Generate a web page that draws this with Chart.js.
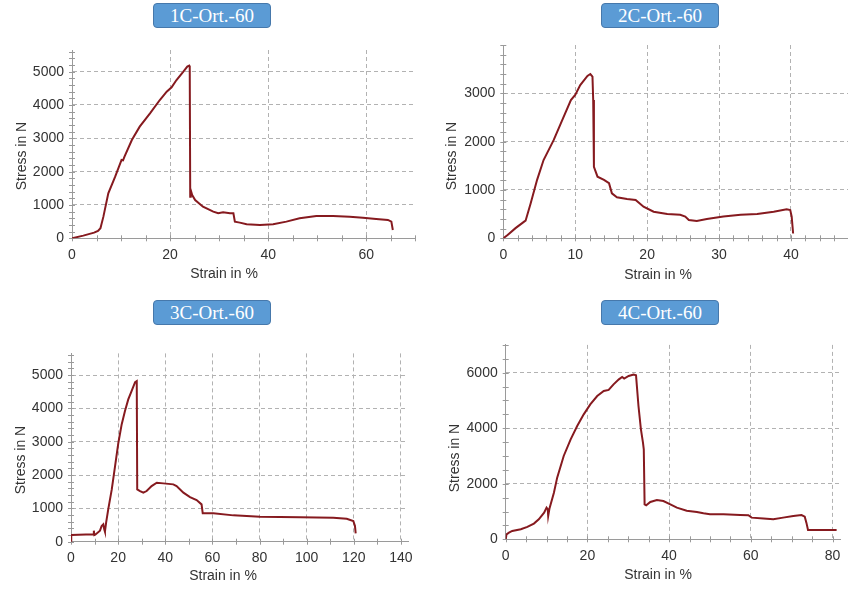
<!DOCTYPE html>
<html>
<head>
<meta charset="utf-8">
<script src="https://cdn.jsdelivr.net/npm/chart.js@4.4.1/dist/chart.umd.min.js"></script>
<style>
  html, body { margin: 0; padding: 0; background: #fff; }
  #wrap { position: relative; width: 848px; height: 592px; background: #fff; overflow: hidden; }
  .panel { position: absolute; width: 440px; height: 296px; }
  .panel canvas { display: block; }
  .badge {
    position: absolute; width: 116px; height: 23px; box-sizing: content-box;
    background: #5b9bd5; border: 1px solid #4678ab; border-radius: 4px;
    color: #fff; font: 19px "Liberation Serif", "Times New Roman", serif;
    text-align: center; line-height: 23px; white-space: nowrap;
  }
  .xt, .yt {
    position: absolute; font: 14px "Liberation Sans", Arial, sans-serif; color: #333;
    white-space: nowrap; transform: translate(-50%, -50%);
  }
  .yt { transform: translate(-50%, -50%) rotate(-90deg); }
</style>
</head>
<body>
<div id="wrap">
  <div class="panel" style="left:0;top:0"><canvas id="c1" width="440" height="296"></canvas></div>
  <div class="panel" style="left:424px;top:0"><canvas id="c2" width="440" height="296"></canvas></div>
  <div class="panel" style="left:0;top:296px"><canvas id="c3" width="440" height="296"></canvas></div>
  <div class="panel" style="left:424px;top:296px"><canvas id="c4" width="440" height="296"></canvas></div>

  <div class="badge" style="left:153px;top:3px">1C-Ort.-60</div>
  <div class="badge" style="left:601px;top:3px">2C-Ort.-60</div>
  <div class="badge" style="left:153px;top:300px">3C-Ort.-60</div>
  <div class="badge" style="left:601px;top:300px">4C-Ort.-60</div>

  <div class="xt" style="left:224px;top:273px">Strain in %</div>
  <div class="xt" style="left:658px;top:274px">Strain in %</div>
  <div class="xt" style="left:223px;top:575px">Strain in %</div>
  <div class="xt" style="left:658px;top:574px">Strain in %</div>

  <div class="yt" style="left:21px;top:156px">Stress in N</div>
  <div class="yt" style="left:451px;top:156px">Stress in N</div>
  <div class="yt" style="left:20px;top:460px">Stress in N</div>
  <div class="yt" style="left:454px;top:458px">Stress in N</div>
</div>

<script>
// ---- Specimen 1C-Ort.-60 ----
const strain1 = [0, 2.3, 4.5, 5.3, 5.8, 6.4, 7.4, 8.8, 10.1, 10.4, 10.7, 12.2, 13.8, 15.9, 17.9, 19.3, 20.3, 21.3, 22.7, 23.5, 23.9, 24.0, 24.1, 24.2, 24.5, 25.1, 26.7, 28.8, 29.8, 30.8, 32.2, 32.9, 33.2, 34.2, 35.6, 38.3, 41.0, 43.7, 46.4, 49.8, 53.2, 56.6, 59.3, 62.0, 64.4, 65.1, 65.4];
const stress1 = [0, 80, 170, 220, 300, 650, 1350, 1850, 2350, 2340, 2450, 2950, 3350, 3750, 4150, 4400, 4530, 4750, 5000, 5150, 5180, 5150, 1250, 1450, 1300, 1150, 950, 800, 750, 780, 750, 750, 500, 470, 420, 400, 420, 500, 600, 670, 670, 650, 620, 580, 550, 500, 250];
const xMajor1 = [0, 20, 40, 60];
const yMajor1 = [0, 1000, 2000, 3000, 4000, 5000];

// ---- Specimen 2C-Ort.-60 ----
const strain2 = [0, 0.6, 1.7, 2.9, 3.1, 3.8, 4.7, 5.6, 7.0, 8.0, 9.4, 10.0, 10.7, 11.7, 12.1, 12.4, 12.5, 12.6, 13.1, 14.0, 14.7, 15.1, 15.8, 17.2, 18.4, 19.5, 20.9, 22.8, 24.6, 25.3, 25.8, 26.9, 28.3, 30.6, 33.0, 35.3, 37.6, 39.4, 39.9, 40.1, 40.3];
const stress2 = [0, 70, 210, 345, 365, 720, 1210, 1620, 2030, 2380, 2860, 2965, 3170, 3360, 3400, 3345, 2860, 1480, 1275, 1210, 1140, 930, 850, 815, 795, 655, 550, 505, 485, 450, 380, 360, 400, 450, 485, 505, 550, 600, 585, 450, 100];
const xMajor2 = [0, 10, 20, 30, 40];
const yMajor2 = [0, 1000, 2000, 3000];

// ---- Specimen 3C-Ort.-60 ----
const strain3 = [0, 0.1, 9.5, 9.7, 9.9, 10.3, 12.3, 13.0, 13.7, 14.1, 14.4, 14.9, 15.8, 17.3, 18.7, 20.1, 21.5, 22.9, 24.3, 25.7, 27.2, 27.9, 28.1, 29.3, 30.7, 32.1, 34.2, 36.4, 39.2, 43.4, 44.8, 47.7, 50.5, 53.3, 55.4, 55.9, 60.4, 68.9, 80.2, 97.2, 111.3, 117.0, 119.8, 120.5, 120.8];
const stress3 = [0, 200, 220, 330, 200, 210, 330, 470, 520, 370, 300, 570, 970, 1570, 2270, 2970, 3520, 3920, 4270, 4520, 4790, 4820, 1570, 1520, 1470, 1520, 1670, 1770, 1750, 1720, 1670, 1470, 1340, 1250, 1120, 850, 850, 790, 750, 730, 720, 690, 620, 470, 250];
const xMajor3 = [0, 20, 40, 60, 80, 100, 120, 140];
const yMajor3 = [0, 1000, 2000, 3000, 4000, 5000];

// ---- Specimen 4C-Ort.-60 ----
const strain4 = [0, 0.2, 0.8, 1.6, 3.7, 5.3, 6.9, 8.1, 9.4, 10.0, 10.3, 10.4, 10.7, 11.8, 12.6, 14.2, 15.9, 17.5, 19.1, 20.7, 22.4, 24.0, 25.2, 26.4, 27.7, 28.5, 29.0, 30.1, 31.3, 31.9, 32.5, 33.1, 33.6, 33.8, 34.0, 34.4, 35.4, 37.0, 38.6, 40.3, 41.9, 44.3, 46.8, 48.4, 50.0, 53.3, 57.4, 59.4, 60.2, 63.1, 65.5, 67.9, 70.4, 72.4, 73.2, 73.6, 74.0, 81.0];
const stress4 = [0, 180, 240, 300, 360, 445, 565, 720, 960, 1140, 1080, 840, 1100, 1680, 2220, 3000, 3600, 4080, 4500, 4860, 5160, 5340, 5380, 5580, 5760, 5845, 5785, 5880, 5930, 5905, 4800, 3960, 3480, 3240, 1260, 1225, 1345, 1415, 1380, 1260, 1140, 1030, 985, 935, 900, 900, 875, 865, 780, 745, 720, 780, 840, 875, 815, 600, 335, 335];
const xMajor4 = [0, 20, 40, 60, 80];
const yMajor4 = [0, 2000, 4000, 6000];

Chart.defaults.font.family = '"Liberation Sans", Arial, sans-serif';
Chart.defaults.font.size = 14;
Chart.defaults.color = '#333';

const LINE_COLOR = '#861a1f';
const GRID_COLOR = '#b2b2b2';
const AXIS_COLOR = '#9a9a9a';

// Short tick marks that cross both axis lines at every minor step
const crossTicks = {
  id: 'crossTicks',
  beforeDatasetsDraw(chart, args, opts) {
    const { ctx, chartArea } = chart;
    const xs = chart.scales.x, ys = chart.scales.y;
    const onStep = (v, step) => Math.abs(v / step - Math.round(v / step)) < 1e-6;
    ctx.save();
    ctx.strokeStyle = AXIS_COLOR;
    ctx.lineWidth = 1;
    ctx.beginPath();
    xs.ticks.forEach(t => {
      if (!onStep(t.value, opts.xStep)) return;
      const px = Math.round(xs.getPixelForValue(t.value)) + 0.5;
      ctx.moveTo(px, chartArea.bottom - 3);
      ctx.lineTo(px, chartArea.bottom + 3);
    });
    ys.ticks.forEach(t => {
      if (!onStep(t.value, opts.yStep)) return;
      const py = Math.round(ys.getPixelForValue(t.value)) + 0.5;
      ctx.moveTo(chartArea.left - 3, py);
      ctx.lineTo(chartArea.left + 3, py);
    });
    ctx.stroke();
    ctx.restore();
  }
};

function makeChart(id, strain, stress, xMajor, yMajor, s) {
  const points = strain.map((x, i) => ({ x: x, y: stress[i] }));
  const isMajor = (list, v) => list.some(m => Math.abs(m - v) < 1e-6);
  return new Chart(document.getElementById(id), {
    type: 'line',
    data: {
      datasets: [{
        data: points,
        borderColor: LINE_COLOR,
        borderWidth: 2,
        pointRadius: 0,
        tension: 0,
        fill: false
      }]
    },
    plugins: [crossTicks],
    options: {
      responsive: false,
      animation: false,
      events: [],
      layout: { padding: { left: 0, top: s.padTop, right: s.padRight, bottom: 0 } },
      plugins: {
        legend: { display: false },
        tooltip: { enabled: false },
        crossTicks: { xStep: s.xStep, yStep: s.yStep }
      },
      scales: {
        x: {
          type: 'linear',
          min: 0,
          max: s.xMax,
          ticks: {
            stepSize: s.xStep,
            autoSkip: false,
            includeBounds: false,
            maxRotation: 0,
            padding: 8,
            callback: v => isMajor(xMajor, v) ? String(v) : ''
          },
          grid: {
            drawTicks: false,
            lineWidth: 1,
            color: c => (c.tick && c.tick.value !== 0 && isMajor(xMajor, c.tick.value)) ? GRID_COLOR : 'rgba(0,0,0,0)'
          },
          border: { display: true, color: AXIS_COLOR, width: 1, dash: [4, 3] },
          afterFit: sc => { sc.height = s.xHeight; }
        },
        y: {
          type: 'linear',
          min: 0,
          max: s.yMax,
          ticks: {
            stepSize: s.yStep,
            autoSkip: false,
            includeBounds: false,
            padding: 8,
            callback: v => isMajor(yMajor, v) ? String(v) : ''
          },
          grid: {
            drawTicks: false,
            lineWidth: 1,
            color: c => (c.tick && c.tick.value !== 0 && isMajor(yMajor, c.tick.value)) ? GRID_COLOR : 'rgba(0,0,0,0)'
          },
          border: { display: true, color: AXIS_COLOR, width: 1, dash: [4, 3] },
          afterFit: sc => { sc.width = s.yWidth; }
        }
      }
    }
  });
}

makeChart('c1', strain1, stress1, xMajor1, yMajor1,
  { xMax: 70, xStep: 5, yMax: 5650, yStep: 200, yWidth: 72, xHeight: 57.7, padTop: 50, padRight: 24.6 });
makeChart('c2', strain2, stress2, xMajor2, yMajor2,
  { xMax: 48, xStep: 2, yMax: 4000, yStep: 200, yWidth: 79.3, xHeight: 57.7, padTop: 45, padRight: 15.5 });
makeChart('c3', strain3, stress3, xMajor3, yMajor3,
  { xMax: 143, xStep: 10, yMax: 5650, yStep: 200, yWidth: 71, xHeight: 50.3, padTop: 57.4, padRight: 32 });
makeChart('c4', strain4, stress4, xMajor4, yMajor4,
  { xMax: 82, xStep: 5, yMax: 7000, yStep: 500, yWidth: 81.7, xHeight: 52.7, padTop: 48.9, padRight: 23.3 });
</script>
</body>
</html>
